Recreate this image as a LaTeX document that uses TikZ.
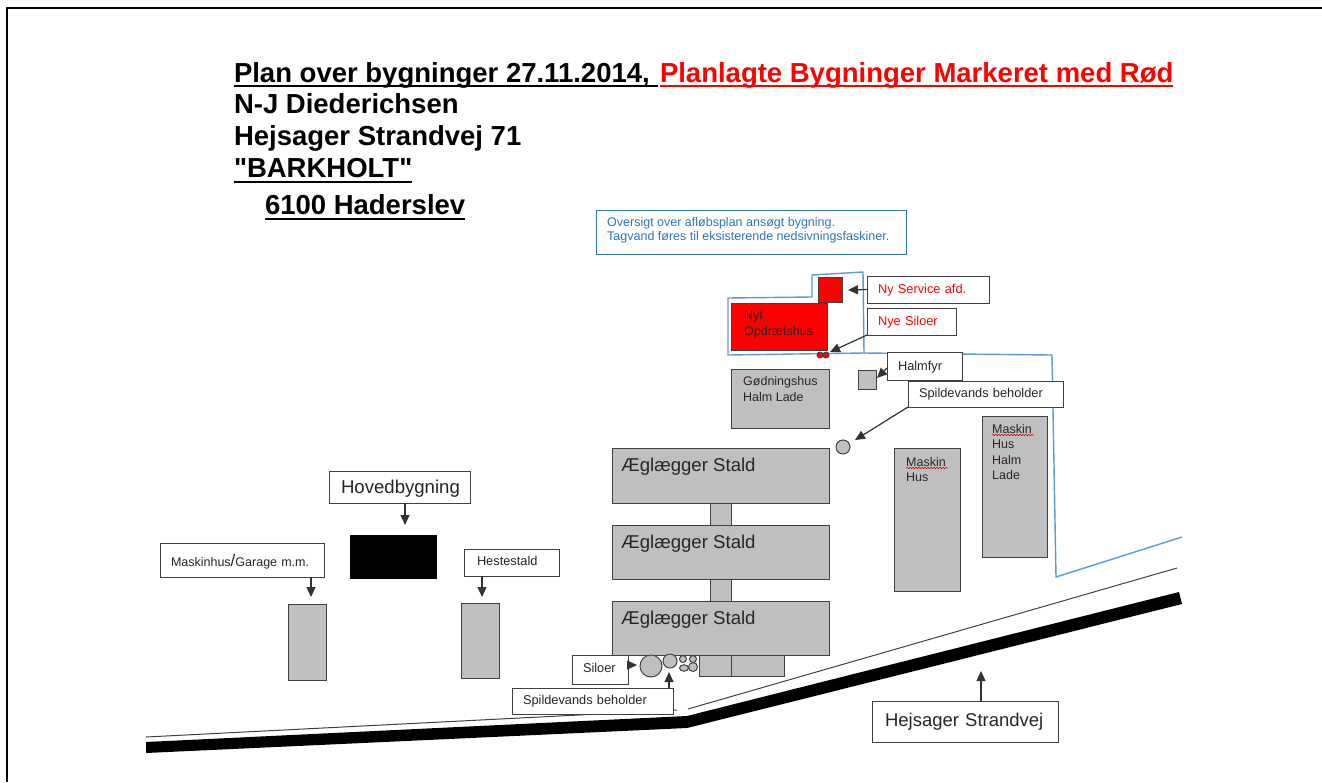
\documentclass[tikz,border=0pt]{standalone}
\usepackage{fontspec}
\setmainfont{Liberation Sans}
\newfontfamily\rawfont{Liberation Sans}
\usetikzlibrary{positioning,arrows.meta,shapes.geometric,decorations.pathmorphing}
\definecolor{bldggrey}{HTML}{BFBFBF}
\definecolor{linegrey}{HTML}{404040}
\definecolor{planblue}{HTML}{5B9BD5}
\definecolor{noteblue}{HTML}{2E75B6}
\definecolor{planred}{HTML}{FF0000}
\tikzset{
  titel/.style={anchor=base west, inner sep=0pt, outer sep=0pt, font=\bfseries\fontsize{27.5}{32}\selectfont},
  bldg/.style={draw=linegrey, line width=1pt, fill=bldggrey, anchor=north west, inner sep=0pt, outer sep=0pt},
  bldgtxt/.style={anchor=north west, inner sep=0pt, align=left, text=black!85, font=\fontsize{12.5}{15.5}\selectfont},
  staldtxt/.style={anchor=west, inner sep=0pt, text=black!85, font=\fontsize{18.6}{22}\selectfont},
  lbl/.style 2 args={draw=linegrey, line width=1pt, fill=white, anchor=north west, outer sep=0pt,
    inner xsep=11pt, inner ysep=0pt, align=left, text=black!85, font=\fontsize{12.8}{15}\selectfont,
    minimum width=#1pt, text width=#1pt-22pt, minimum height=#2pt},
  ned/.style={text height=11.6pt, text depth=3pt},
  op/.style={text height=9.6pt, text depth=4pt},
  pil/.style={draw=black!80, line width=1.2pt, -{Triangle[length=10pt,width=9pt]}},
  silo/.style={circle, draw=linegrey, line width=1pt, fill=bldggrey, inner sep=0pt, outer sep=0pt},
  plan/.style={draw=planblue, line width=1.4pt},
  krus/.style={draw=red!80!black, line width=.5pt, decorate, decoration={snake, amplitude=.7pt, segment length=3pt}}
}
\begin{document}
\begin{tikzpicture}[x=1pt,y=-1pt]
\useasboundingbox (0,0) rectangle (1322,782);
\draw[line width=2pt] (7,782) -- (7,8) -- (1322,8);
% overskrift
\node[titel] (titel1) at (234,82) {Plan over bygninger 27.11.2014,};
\node[titel, text=planred] (titel2) at (660,82) {Planlagte Bygninger Markeret med Rød};
\node[titel] (titel3) at (234,113) {N-J Diederichsen};
\node[titel] (titel4) at (234,145) {Hejsager Strandvej 71};
\node[titel] (titel5) at (234,177) {\rawfont\bfseries "BARKHOLT"};
\node[titel] (titel6) at (265,214) {6100 Haderslev};
\draw[line width=2.5pt] ([yshift=-4pt]titel1.base west) -- ++(424,0);
\draw[line width=2.5pt, planred] ([yshift=-4pt]titel2.base west) -- ([yshift=-4pt]titel2.base east);
\draw[line width=2.5pt] ([yshift=-5pt]titel5.base west) -- ([yshift=-5pt]titel5.base east);
\draw[line width=2.5pt] ([yshift=-5pt]titel6.base west) -- ([yshift=-5pt]titel6.base east);
% note
\node[draw=noteblue, line width=1pt, anchor=north west, outer sep=0pt, inner sep=0pt,
  minimum width=310pt, minimum height=44pt] (note) at (596,210) {};
\node[anchor=north west, inner sep=0pt, align=left, text=noteblue,
  font=\fontsize{12.5}{14}\selectfont] (txtnote) at (607,217)
  {Oversigt over afløbsplan ansøgt bygning.\\Tagvand føres til eksisterende nedsivningsfaskiner.};
% afloebsplan
\draw[plan] (812,275) -- (863,272) -- (864,353) -- (728,355) -- (728,298) -- (812,297) -- cycle;
\draw[plan] (864,353) -- (1052,355) -- (1056,577) -- (1182,537);
% vej
\draw[line width=1pt, black!75] (146,737) -- (677,710);
\draw[line width=1pt, black!75] (688,709) -- (1177,568);
\fill (146,742) -- (687,716) -- (1179,592) -- (1182,604) -- (687,728) -- (146,753) -- cycle;
% nye bygninger
\node[bldg, fill=planred, minimum width=24pt, minimum height=25pt] (service) at (818,277) {};
\node[bldg, fill=planred, minimum width=96pt, minimum height=47pt] (opdraet) at (731,303) {};
\node[bldgtxt] (txtopdraet) at (744,311) {Nyt\\[.5pt]Opdrætshus};
\node[silo, fill=planred, minimum size=6pt] (nysilo1) at (820,355) {};
\node[silo, fill=planred, minimum size=6pt] (nysilo2) at (826,355) {};
% midten
\node[bldg, minimum width=98pt, minimum height=59pt] (goedning) at (731,369) {};
\node[bldgtxt] (txtgoedning) at (743,376) {Gødningshus\\[.5pt]Halm Lade};
\node[bldg, minimum width=18pt, minimum height=19pt] (halmfyr) at (858,370) {};
\node[silo, minimum size=14pt] (spildevand) at (843,447) {};
\node[bldg, minimum width=66pt, minimum height=143pt] (maskin1) at (894,448) {};
\node[bldgtxt] (txtmaskin1) at (906,457) {Maskin\\Hus};
\node[bldg, minimum width=65pt, minimum height=141pt] (maskin2) at (982,416) {};
\node[bldgtxt] (txtmaskin2) at (992,424) {Maskin\\Hus\\Halm\\Lade};
\draw[krus] (906,468) -- (948,468);
\draw[krus] (992,435) -- (1034,435);
% staldene
\node[bldg, minimum width=21pt, minimum height=22pt] (gang1) at (710,503) {};
\node[bldg, minimum width=21pt, minimum height=22pt] (gang2) at (710,579) {};
\node[bldg, minimum width=32pt, minimum height=21pt] (blok1) at (699,655) {};
\node[bldg, minimum width=53pt, minimum height=21pt] (blok2) at (731,655) {};
\node[bldg, minimum width=217pt, minimum height=55pt] (stald1) at (612,448) {};
\node[bldg, minimum width=217pt, minimum height=54pt] (stald2) at (612,525) {};
\node[bldg, minimum width=217pt, minimum height=54pt] (stald3) at (612,601) {};
\node[staldtxt] (txtstald1) at (621,467) {Æglægger Stald};
\node[staldtxt] (txtstald2) at (621,544) {Æglægger Stald};
\node[staldtxt] (txtstald3) at (621,620) {Æglægger Stald};
% siloer
\node[silo, minimum size=22pt] (silo1) at (651,666) {};
\node[silo, minimum size=14pt] (silo2) at (670,661) {};
\node[silo, minimum size=7pt] (silo3) at (683,659) {};
\node[silo, minimum size=7pt] (silo4) at (693,659) {};
\node[silo, ellipse, minimum width=9pt, minimum height=6.5pt] (silo5) at (684,668) {};
\node[silo, minimum size=9pt] (silo6) at (693,667) {};
% venstre side
\node[bldg, fill=black, draw=none, minimum width=87pt, minimum height=44pt] (hoved) at (350,535) {};
\node[bldg, minimum width=38pt, minimum height=76pt] (maskinhus) at (288,604) {};
\node[bldg, minimum width=38pt, minimum height=75pt] (hestestald) at (461,603) {};
% labels
\node[lbl={122}{27}, ned, text=planred] (lblservice) at (867,276) {Ny Service afd.};
\node[lbl={89}{27}, ned, text=planred] (lblsiloer) at (867,308) {Nye Siloer};
\node[lbl={75}{28}, ned] (lblhalmfyr) at (887,352) {Halmfyr};
\node[lbl={155}{26}] (lblspilde) at (908,381) {Spildevands beholder};
\node[lbl={164}{34}, text height=15.6pt, text depth=3pt, font=\fontsize{12.5}{15}\selectfont] (lblmaskin) at (160,543) {Maskinhus{\fontsize{17}{15}\selectfont/}Garage m.m.};
\node[lbl={91}{27}, op, inner xsep=13pt] (lblheste) at (464,549) {Hestestald};
\node[lbl={56}{29}, op] (lblsilo) at (572,655) {Siloer};
\node[lbl={161}{26}] (lblspilde2) at (512,688) {Spildevands beholder};
\node[lbl={139}{32}, inner xsep=12pt, text height=17pt, text depth=4pt, font=\fontsize{18.6}{20}\selectfont] (lblhoved) at (329,471) {Hovedbygning};
\node[lbl={182}{41}, inner xsep=13pt, font=\fontsize{18.5}{22}\selectfont] (lblvej) at (872,701) {Hejsager Strandvej};
% pile
\coordinate (tipservice) at (848,290);
\coordinate (tipsiloer) at (830,352);
\coordinate (tiphalmfyr) at (877,378);
\coordinate (tipspilde) at (855,440);
\coordinate (tipmaskin) at (311,597);
\coordinate (tipheste) at (482,597);
\coordinate (tiphoved) at (405,525);
\coordinate (tipsilo) at (637,665);
\coordinate (tipspilde2) at (669,672);
\coordinate (tipvej) at (981,671);
\draw[pil] (lblservice.west) -- (tipservice);
\draw[pil] (lblsiloer.south west) -- (tipsiloer);
\draw[pil] ([yshift=-2pt]lblhalmfyr.west) -- (tiphalmfyr);
\draw[pil] (lblspilde.south west) -- (tipspilde);
\draw[pil] (lblmaskin.south -| tipmaskin) -- (tipmaskin);
\draw[pil] (lblheste.south -| tipheste) -- (tipheste);
\draw[pil] (lblhoved.south -| tiphoved) -- (tiphoved);
\draw[pil] (lblsilo.east |- tipsilo) -- (tipsilo);
\draw[pil] (lblspilde2.north -| tipspilde2) -- (tipspilde2);
\draw[pil] (lblvej.north -| tipvej) -- (tipvej);
\end{tikzpicture}
\end{document}
